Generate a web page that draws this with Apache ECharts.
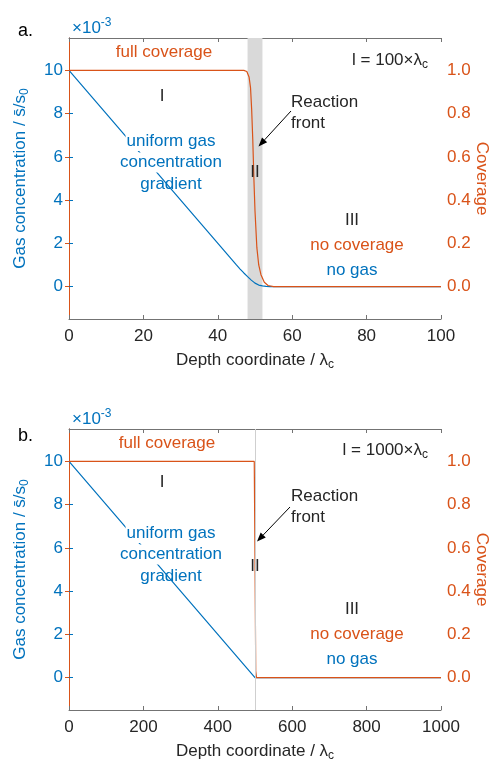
<!DOCTYPE html>
<html>
<head>
<meta charset="utf-8">
<script src="https://cdn.jsdelivr.net/npm/echarts@6/dist/echarts.min.js"></script>
<style>
  html, body { margin: 0; padding: 0; background: #fff; }
  #chart { width: 492px; height: 764px; }
</style>
</head>
<body>
<div id="chart"></div>
<script>
// Panel a: l = 100 x lambda_c (smooth reaction front)
const depthGasA = [0, 45, 46, 47, 47.5, 48, 48.5, 49, 49.5, 50, 50.5, 51, 52, 53, 54, 100];
const gasA      = [10, 1.0, 0.81, 0.63, 0.55, 0.46, 0.38, 0.30, 0.23, 0.16, 0.11, 0.07, 0.03, 0.01, 0, 0];
const depthCovA = [0, 47, 47.8, 48.4, 48.8, 49.1, 49.4, 49.7, 50.0, 50.5, 51, 51.6, 52.5, 53.5, 55, 100];
const coverageA = [1, 1, 0.995, 0.97, 0.92, 0.82, 0.68, 0.5, 0.35, 0.18, 0.1, 0.055, 0.02, 0.005, 0, 0];
const frontBandA = [48, 52];

// Panel b: l = 1000 x lambda_c (sharp reaction front)
const depthGasB = [0, 500, 1000];
const gasB      = [10, 0, 0];
const depthCovB = [0, 498, 500, 502, 504, 1000];
const coverageB = [1, 1, 0.55, 0.03, 0, 0];
const frontLineB = 500;

// Tick labels
const gasTicks = [0, 2, 4, 6, 8, 10];
const covTicks = [0, 0.2, 0.4, 0.6, 0.8, 1.0];

const BLUE = '#0072BD';
const ORANGE = '#D95319';
const DARK = '#262626';
const AXISGRAY = '#737373';
const FONT = 'Liberation Sans, Arial, Helvetica, sans-serif';
const FS = 17;

const pairs = (xs, ys) => xs.map((x, i) => [x, ys[i]]);

const chart = echarts.init(document.getElementById('chart'), null, { renderer: 'canvas' });

function xAxes(gridIndex, max, interval) {
  const common = {
    gridIndex, type: 'value', min: 0, max, interval,
    splitLine: { show: false },
    axisLine: { onZero: false, lineStyle: { color: AXISGRAY, width: 1 } },
    axisTick: { inside: true, length: 4, lineStyle: { color: AXISGRAY } }
  };
  return [
    Object.assign({}, common, {
      position: 'bottom',
      axisLabel: { color: DARK, fontSize: FS, fontFamily: FONT, margin: 9,
        formatter: v => String(v) }
    }),
    Object.assign({}, common, {
      position: 'top',
      axisLabel: { show: false }
    })
  ];
}

function yAxes(gridIndex) {
  return [
    {
      gridIndex, type: 'value', position: 'left', min: -1.5, max: 11.5,
      splitLine: { show: false },
      axisLine: { show: true, lineStyle: { color: BLUE, width: 1 } },
      axisTick: { show: true, inside: true, length: 4, customValues: gasTicks, lineStyle: { color: BLUE } },
      axisLabel: { color: BLUE, fontSize: FS, fontFamily: FONT, margin: 6,
        customValues: gasTicks, formatter: v => String(Math.round(v)) }
    },
    {
      gridIndex, type: 'value', position: 'right', min: -0.15, max: 1.15,
      splitLine: { show: false },
      axisLine: { show: true, lineStyle: { color: ORANGE, width: 1 } },
      axisTick: { show: true, inside: true, length: 4, customValues: covTicks, lineStyle: { color: ORANGE } },
      axisLabel: { color: ORANGE, fontSize: FS, fontFamily: FONT, margin: 6,
        customValues: covTicks, formatter: v => v.toFixed(1) }
    }
  ];
}

function lineSeries(xi, yi, data, color) {
  return {
    type: 'line', xAxisIndex: xi, yAxisIndex: yi, data,
    showSymbol: false, symbol: 'none', z: 3, silent: true,
    lineStyle: { color, width: 1.2 }
  };
}

const sub = { fontSize: 12, lineHeight: 12, verticalAlign: 'bottom', fontFamily: FONT };
const sup = { fontSize: 12, lineHeight: 12, verticalAlign: 'top', fontFamily: FONT };

function txt(x, y, text, color, opts) {
  opts = opts || {};
  return {
    type: 'text', x, y, z: 100, rotation: opts.rotation || 0,
    style: {
      text, fill: color, fontSize: opts.fontSize || FS, fontFamily: FONT,
      align: opts.align || 'center', verticalAlign: 'middle', lineHeight: 22,
      backgroundColor: opts.bg || null, padding: opts.bg ? [-1, 1] : 0,
      rich: {
        sub: Object.assign({ fill: color }, sub),
        sup: Object.assign({ fill: color }, sup)
      }
    }
  };
}

function arrow(x1, y1, x2, y2) {
  const ang = Math.atan2(y2 - y1, x2 - x1);
  const L = 9, W = 3.5;
  const bx = x2 - L * Math.cos(ang), by = y2 - L * Math.sin(ang);
  const nx = -Math.sin(ang), ny = Math.cos(ang);
  return [
    { type: 'line', z: 100, shape: { x1, y1, x2: bx, y2: by }, style: { stroke: '#000', lineWidth: 1 } },
    { type: 'polygon', z: 100, shape: { points: [[x2, y2], [bx + nx * W, by + ny * W], [bx - nx * W, by - ny * W]] },
      style: { fill: '#000' } }
  ];
}

function panelGraphics(top, spec) {
  const plotMid = top + 140.5;
  const els = [
    txt(18, spec.labelY, spec.label, '#000', { align: 'left', fontSize: 18 }),
    txt(72, top - 10, '×10{sup|-3}', BLUE, { align: 'left' }),
    txt(20, plotMid, 'Gas concentration / s\u0304/s{sub|0}', BLUE, { rotation: Math.PI / 2 }),
    txt(482, plotMid, 'Coverage', ORANGE, { rotation: -Math.PI / 2 }),
    txt(255, top + 322, 'Depth coordinate / λ{sub|c}', DARK),
    txt(428, spec.lenY, spec.lenText, DARK, { align: 'right' }),
    txt(spec.fullX, spec.fullY, 'full coverage', ORANGE),
    txt(162, spec.iY, 'I', DARK),
    txt(171, spec.uY, 'uniform gas', BLUE, { bg: '#fff' }),
    txt(171, spec.uY + 21.5, 'concentration', BLUE, { bg: '#fff' }),
    txt(171, spec.uY + 43, 'gradient', BLUE),
    txt(255, spec.iiY, 'II', DARK),
    txt(291, spec.rY, 'Reaction', DARK, { align: 'left' }),
    txt(291, spec.rY + 21.5, 'front', DARK, { align: 'left' }),
    txt(352, spec.iiiY, 'III', DARK),
    txt(357, spec.iiiY + 25, 'no coverage', ORANGE),
    txt(352, spec.iiiY + 50, 'no gas', BLUE)
  ];
  return els.concat(arrow(spec.arrow[0], spec.arrow[1], spec.arrow[2], spec.arrow[3]));
}

const option = {
  backgroundColor: '#fff',
  animation: false,
  grid: [
    { left: 69, top: 38, width: 372, height: 281, containLabel: false },
    { left: 69, top: 429, width: 372, height: 281, containLabel: false }
  ],
  xAxis: xAxes(0, 100, 20).concat(xAxes(1, 1000, 200)),
  yAxis: yAxes(0).concat(yAxes(1)),
  series: [
    {
      type: 'line', xAxisIndex: 0, yAxisIndex: 0, data: [], z: 1, silent: true,
      markArea: {
        silent: true,
        itemStyle: { color: '#d9d9d9' },
        data: [[{ xAxis: frontBandA[0] }, { xAxis: frontBandA[1] }]]
      }
    },
    {
      type: 'line', xAxisIndex: 2, yAxisIndex: 2, data: [], z: 1, silent: true,
      markLine: {
        silent: true, symbol: 'none', label: { show: false },
        lineStyle: { color: '#cfcfcf', width: 1, type: 'solid' },
        data: [{ xAxis: frontLineB }]
      }
    },
    lineSeries(0, 0, pairs(depthGasA, gasA), BLUE),
    lineSeries(0, 1, pairs(depthCovA, coverageA), ORANGE),
    lineSeries(2, 2, pairs(depthGasB, gasB), BLUE),
    lineSeries(2, 3, pairs(depthCovB, coverageB), ORANGE)
  ],
  graphic: panelGraphics(38, {
    label: 'a.', labelY: 31, lenText: 'l = 100×λ{sub|c}', lenY: 60,
    fullX: 164, fullY: 52, iY: 96, uY: 141, iiY: 172, rY: 102, iiiY: 220,
    arrow: [291, 111, 258.5, 146.5]
  }).concat(panelGraphics(429, {
    label: 'b.', labelY: 436, lenText: 'l = 1000×λ{sub|c}', lenY: 450,
    fullX: 167, fullY: 443, iY: 482, uY: 533, iiY: 566, rY: 496, iiiY: 609,
    arrow: [290, 507, 257, 541.5]
  }))
};

chart.setOption(option);
</script>
</body>
</html>
